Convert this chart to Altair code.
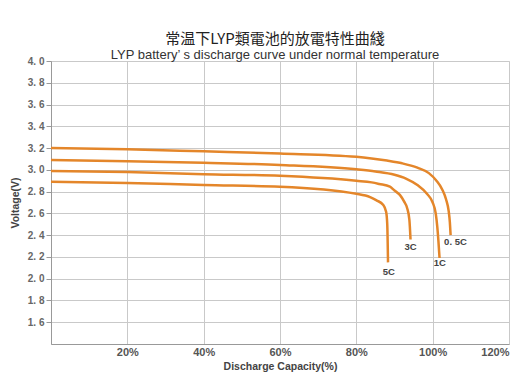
import altair as alt
import pandas as pd

# Discharge capacity (%) and voltage (V) for each rate
cap_05c = [0, 20, 40, 60, 80, 84, 88, 92, 96, 99, 101, 102.5, 103.5, 104.2, 104.5, 104.7]
volt_05c = [3.20, 3.19, 3.17, 3.15, 3.12, 3.105, 3.085, 3.06, 3.02, 2.97, 2.90, 2.82, 2.73, 2.62, 2.52, 2.40]

cap_1c = [0, 20, 40, 60, 80, 85, 90, 93, 96, 98.5, 100, 100.8, 101.2, 101.5, 101.8]
volt_1c = [3.09, 3.08, 3.065, 3.045, 3.005, 2.985, 2.955, 2.92, 2.86, 2.78, 2.70, 2.60, 2.48, 2.35, 2.19]

cap_3c = [0, 20, 40, 60, 80, 84, 86, 88.8, 90, 91.4, 92.5, 93.3, 93.9, 94.2]
volt_3c = [2.99, 2.98, 2.96, 2.945, 2.90, 2.885, 2.87, 2.845, 2.81, 2.77, 2.71, 2.65, 2.54, 2.36]

cap_5c = [0, 20, 40, 60, 80, 83.6, 85.3, 87, 87.8, 88.1, 88.3]
volt_5c = [2.89, 2.88, 2.86, 2.845, 2.78, 2.75, 2.72, 2.68, 2.615, 2.50, 2.15]

series_names = ["0.5C", "1C", "3C", "5C"]

label_text = ["0. 5C", "1C", "3C", "5C"]
label_x = [103.0, 101.9, 94.2, 88.5]
label_y = [2.334, 2.14, 2.29, 2.06]
label_align = ["left", "center", "center", "center"]

x_ticks = [0, 20, 40, 60, 80, 100, 120]
y_ticks = [1.6, 1.8, 2.0, 2.2, 2.4, 2.6, 2.8, 3.0, 3.2, 3.4, 3.6, 3.8, 4.0]

rows = []
for name, xs, ys in zip(series_names,
                        [cap_05c, cap_1c, cap_3c, cap_5c],
                        [volt_05c, volt_1c, volt_3c, volt_5c]):
    for i, (a, b) in enumerate(zip(xs, ys)):
        rows.append({"series": name, "cap": a, "volt": b, "idx": i})
df = pd.DataFrame(rows)

lab = pd.DataFrame({"text": label_text, "cap": label_x, "volt": label_y, "align": label_align})

ORANGE = "#E4862A"
GRID = "#c9c9c9"
LABEL = "#555555"
FONT = "Liberation Sans"

x_enc = alt.X("cap:Q",
              scale=alt.Scale(domain=[0, 120], nice=False, zero=False),
              axis=alt.Axis(values=x_ticks, tickCount=20, grid=True, gridColor=GRID, gridWidth=1,
                            domainColor="#999999", ticks=False, labelPadding=2,
                            labelOverlap=False,
                            labelExpr="datum.value == 0 ? '' : datum.value + '%'",
                            labelFont=FONT, labelFontSize=11, labelColor=LABEL,
                            labelFontWeight="bold",
                            title="Discharge Capacity(%)", titleFont=FONT,
                            titleFontSize=10.5, titleColor="#444444",
                            titleFontWeight="bold", titlePadding=4))
y_enc = alt.Y("volt:Q",
              scale=alt.Scale(domain=[1.4, 4.0], nice=False, zero=False),
              axis=alt.Axis(values=y_ticks, tickCount=20, grid=True, gridColor=GRID, gridWidth=1,
                            domainColor="#999999", tickColor="#999999", tickSize=5,
                            labelPadding=2, labelOverlap=False,
                            labelExpr="replace(format(datum.value, '.1f'), '.', '. ')",
                            labelFont=FONT, labelFontSize=10, labelColor="#666666",
                            labelFontWeight="bold",
                            title="Voltage(V)", titleFont=FONT, titleFontSize=10.5,
                            titleColor="#444444", titleFontWeight="bold",
                            titlePadding=7))

lines = alt.Chart(df).mark_line(color=ORANGE, strokeWidth=2.5, interpolate="monotone").encode(
    x=x_enc, y=y_enc, detail="series:N", order="idx:Q"
)

text_left = alt.Chart(lab[lab["align"] == "left"]).mark_text(
    font=FONT, fontSize=9.5, fontWeight="bold", color="#444444",
    baseline="middle", align="left").encode(x="cap:Q", y="volt:Q", text="text:N")
text_center = alt.Chart(lab[lab["align"] == "center"]).mark_text(
    font=FONT, fontSize=9.5, fontWeight="bold", color="#444444",
    baseline="middle", align="center").encode(x="cap:Q", y="volt:Q", text="text:N")

chart = alt.layer(lines, text_left, text_center).properties(
    width=458, height=283,
    title=alt.TitleParams(
        text="常温下LYP類電池的放電特性曲綫",
        subtitle="LYP battery’ s discharge curve under normal temperature",
        font="Noto Sans CJK TC", fontSize=15, fontWeight="normal", color="#222222",
        subtitleFont=FONT, subtitleFontSize=13, subtitleColor="#333333",
        subtitlePadding=2, offset=-6, anchor="middle", dx=-5
    ),
    autosize=alt.AutoSizeParams(type="none"),
    padding={"left": 43, "top": 53, "right": 10, "bottom": 33}
).configure_view(stroke=None).configure(background="white")

chart.save("out.html", embed_options={"renderer": "svg", "actions": False})
